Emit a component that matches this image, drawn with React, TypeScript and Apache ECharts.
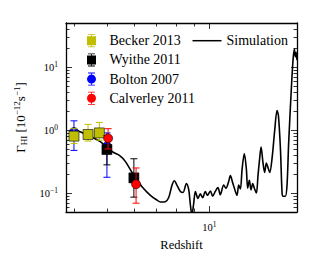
import React, { useEffect, useRef } from 'react';
import * as echarts from 'echarts';

// ---- Simulation curve (redshift, Gamma_HI in 1e-12 s^-1)
const simZ = [3.97, 4.17, 4.37, 4.57, 4.78, 5.0, 5.23, 5.44, 5.66, 5.99,
  6.34, 6.71, 7.02, 7.18, 7.42, 7.59, 7.77, 7.89, 8.03, 8.22,
  8.37, 8.56, 8.7, 8.79, 8.89, 8.99, 9.1, 9.26, 9.41, 9.56,
  9.73, 9.87, 10.07, 10.23, 10.41, 10.6, 10.77, 11.02, 11.19, 11.4,
  11.53, 11.71, 11.93, 12.06, 12.2, 12.34, 12.48, 12.67, 12.85, 12.96,
  13.11, 13.26, 13.41, 13.56, 13.75, 13.9, 14.06, 14.19, 14.38, 14.54,
  14.71, 14.88, 15.05, 15.29, 15.57, 15.81, 15.96, 16.18, 16.36, 16.47,
  16.73, 16.92, 17.11, 17.42, 17.62, 17.78, 17.9, 17.99, 18.1];
const simG = [1.05, 0.94, 0.84, 0.745, 0.655, 0.53, 0.44, 0.395, 0.318, 0.193,
  0.126, 0.092, 0.077, 0.072, 0.073, 0.084, 0.134, 0.157, 0.134, 0.106,
  0.102, 0.142, 0.112, 0.067, 0.045, 0.067, 0.106, 0.082, 0.097, 0.084,
  0.106, 0.092, 0.108, 0.089, 0.106, 0.122, 0.094, 0.134, 0.119, 0.153,
  0.189, 0.146, 0.106, 0.092, 0.134, 0.116, 0.238, 0.425, 0.238, 0.119,
  0.159, 0.112, 0.142, 0.119, 0.1, 0.189, 0.357, 0.535, 0.3, 0.212,
  0.3, 0.252, 0.212, 0.357, 1.01, 2.03, 1.7, 0.505, 0.1, 0.089,
  0.089, 0.134, 0.637, 4.55, 12.9, 19.3, 14.5, 17.2, 12.9];

// ---- Observations
const beckerZ = [4.0, 4.4, 4.75];
const beckerG = [0.8, 0.85, 0.9];
const beckerLo = [0.61, 0.67, 0.69];
const beckerHi = [1.05, 1.23, 1.32];

const wyitheZ = [5.0, 6.0];
const wyitheG = [0.49, 0.174];
const wyitheLo = [0.28, 0.086];
const wyitheHi = [0.82, 0.35];

const boltonZ = [4.0, 5.0];
const boltonG = [0.93, 0.55];
const boltonLo = [0.475, 0.178];
const boltonHi = [1.4, 0.9];

const calverleyZ = [5.04, 6.09];
const calverleyG = [0.74, 0.138];
const calverleyLo = [0.5, 0.069];
const calverleyHi = [1.05, 0.25];

// ---- Axis ticks
const xMajor = [10];
const xMinor = [4, 5, 6, 7, 8, 9];
const yMajor = [0.1, 1, 10];
const yMinor = [0.06, 0.07, 0.08, 0.09, 0.2, 0.3, 0.4, 0.5, 0.6, 0.7, 0.8, 0.9,
  2, 3, 4, 5, 6, 7, 8, 9, 20, 30, 40];

const FONT = '"Liberation Serif", "Times New Roman", serif';
const YEL = '#bfbf00';
const BLUE = '#0000ff';
const RED = '#ff0000';
const BLK = '#000000';

const SQ_ICON = 'path://M1.5,0H8.5V0.8H5.4V2H9.5V11H5.4V12.2H8.5V13H1.5V12.2H4.6V11H0.5V2H4.6V0.8H1.5Z';
const CI_ICON = 'path://M1.5,0H8.5V0.8H1.5Z M4.6,0H5.4V13H4.6Z M1.5,12.2H8.5V13H1.5Z M0.5,6.5A4.5,4.5 0 1,1 9.5,6.5A4.5,4.5 0 1,1 0.5,6.5Z';

const supRich = {
  b: { fontFamily: FONT, fontSize: 10.5, color: '#000', lineHeight: 14 },
  sup: { fontFamily: FONT, fontSize: 7.5, color: '#000', lineHeight: 7, verticalAlign: 'top' as const },
};

function powLabel(v: number) {
  const e = Math.round(Math.log10(v));
  return '{b|10}{sup|' + (e < 0 ? '\u2212' + -e : String(e)) + '}';
}

function errSeries(name: string, zs: number[], lo: number[], hi: number[], color: string, z: number) {
  return {
    type: 'custom',
    name,
    xAxisIndex: 0,
    yAxisIndex: 0,
    z,
    clip: true,
    data: zs.map((x, i) => [x, lo[i], hi[i]]),
    encode: { x: 0, y: [1, 2] },
    renderItem: (_p: any, api: any) => {
      const x = api.value(0);
      const a = api.coord([x, api.value(2)]);
      const b = api.coord([x, api.value(1)]);
      const hw = 3.5;
      const st = { stroke: color, lineWidth: 1 };
      return {
        type: 'group',
        children: [
          { type: 'line', shape: { x1: a[0], y1: a[1], x2: b[0], y2: b[1] }, style: st },
          { type: 'line', shape: { x1: a[0] - hw, y1: a[1], x2: a[0] + hw, y2: a[1] }, style: st },
          { type: 'line', shape: { x1: b[0] - hw, y1: b[1], x2: b[0] + hw, y2: b[1] }, style: st },
        ],
      };
    },
  };
}

function markSeries(name: string, zs: number[], gs: number[], symbol: string, size: number, color: string, z: number) {
  return {
    type: 'scatter',
    name,
    xAxisIndex: 0,
    yAxisIndex: 0,
    z,
    symbol,
    symbolSize: size,
    itemStyle: { color, borderColor: '#000', borderWidth: 0.6, opacity: 1 },
    data: zs.map((x, i) => [x, gs[i]]),
  };
}

export default function App() {
  const ref = useRef<HTMLDivElement>(null);
  useEffect(() => {
    if (!ref.current) return;
    const chart = echarts.init(ref.current, undefined, { renderer: 'svg' });
    const axisLine = { show: true, lineStyle: { color: '#000', width: 1.3 } };
    const xBase = { type: 'log', logBase: 10, min: 3.79, max: 18.1, gridIndex: 0, splitLine: { show: false } };
    const yBase = { type: 'log', logBase: 10, min: 0.05, max: 50, gridIndex: 0, splitLine: { show: false } };
    const option: any = {
      animation: false,
      backgroundColor: '#ffffff',
      grid: { left: 66, top: 23, right: 33, bottom: 35, containLabel: false },
      xAxis: [
        {
          ...xBase, position: 'bottom', axisLine,
          axisTick: { show: true, inside: true, length: 6, customValues: xMajor, lineStyle: { color: '#000', width: 0.8 } },
          axisLabel: { show: true, customValues: xMajor, margin: 8, formatter: powLabel, rich: supRich },
          name: 'Redshift', nameLocation: 'middle', nameGap: 26,
          nameTextStyle: { fontFamily: FONT, fontSize: 12.5, color: '#000' },
        },
        {
          ...xBase, position: 'bottom', axisLine: { show: false },
          axisTick: { show: true, inside: true, length: 3.5, customValues: xMinor, lineStyle: { color: '#000', width: 0.8 } },
          axisLabel: { show: false },
        },
        {
          ...xBase, position: 'top', axisLine,
          axisTick: { show: true, inside: true, length: 6, customValues: xMajor, lineStyle: { color: '#000', width: 0.8 } },
          axisLabel: { show: false },
        },
        {
          ...xBase, position: 'top', axisLine: { show: false },
          axisTick: { show: true, inside: true, length: 3.5, customValues: xMinor, lineStyle: { color: '#000', width: 0.8 } },
          axisLabel: { show: false },
        },
      ],
      yAxis: [
        {
          ...yBase, position: 'left', axisLine,
          axisTick: { show: true, inside: true, length: 6, customValues: yMajor, lineStyle: { color: '#000', width: 0.8 } },
          axisLabel: { show: true, customValues: yMajor, margin: 8, formatter: powLabel, rich: supRich },
          name: '{n|\u0393}{sub|HI}{n| [10}{sup|\u221212}{n|s}{sup|\u22121}{n|]}',
          nameLocation: 'middle', nameGap: 34, nameRotate: 90,
          nameTextStyle: {
            rich: {
              n: { fontFamily: FONT, fontSize: 13, color: '#000', lineHeight: 16 },
              sub: { fontFamily: FONT, fontSize: 9, color: '#000', lineHeight: 8, verticalAlign: 'bottom' },
              sup: { fontFamily: FONT, fontSize: 9, color: '#000', lineHeight: 8, verticalAlign: 'top' },
            },
          },
        },
        {
          ...yBase, position: 'left', axisLine: { show: false },
          axisTick: { show: true, inside: true, length: 3.5, customValues: yMinor, lineStyle: { color: '#000', width: 0.8 } },
          axisLabel: { show: false },
        },
        {
          ...yBase, position: 'right', axisLine,
          axisTick: { show: true, inside: true, length: 6, customValues: yMajor, lineStyle: { color: '#000', width: 0.8 } },
          axisLabel: { show: false },
        },
        {
          ...yBase, position: 'right', axisLine: { show: false },
          axisTick: { show: true, inside: true, length: 3.5, customValues: yMinor, lineStyle: { color: '#000', width: 0.8 } },
          axisLabel: { show: false },
        },
      ],
      legend: [
        {
          orient: 'vertical', left: 87, top: 33.7, padding: 0, itemWidth: 10, itemHeight: 13, itemGap: 5.2,
          selectedMode: false,
          textStyle: { fontFamily: FONT, fontSize: 14, color: '#000', padding: [0, 0, 0, 8] },
          data: [
            { name: 'Becker 2013', icon: SQ_ICON, itemStyle: { color: YEL, borderWidth: 0 } },
            { name: 'Wyithe 2011', icon: SQ_ICON, itemStyle: { color: BLK, borderWidth: 0 } },
            { name: 'Bolton 2007', icon: CI_ICON, itemStyle: { color: BLUE, borderWidth: 0 } },
            { name: 'Calverley 2011', icon: CI_ICON, itemStyle: { color: RED, borderWidth: 0 } },
          ],
        },
        {
          left: 192.5, top: 33.7, padding: 0, itemWidth: 29, itemHeight: 1.5,
          selectedMode: false,
          textStyle: { fontFamily: FONT, fontSize: 14, color: '#000' },
          data: [{ name: 'Simulation', icon: 'rect', itemStyle: { color: BLK, borderWidth: 0 } }],
        },
      ],
      series: [
        {
          type: 'line', name: 'Simulation', xAxisIndex: 0, yAxisIndex: 0, z: 2,
          data: simZ.map((x, i) => [x, simG[i]]),
          showSymbol: false, symbol: 'none', smooth: 0.3, clip: true,
          lineStyle: { color: BLK, width: 1.6 }, itemStyle: { color: BLK },
        },
        errSeries('Bolton 2007', boltonZ, boltonLo, boltonHi, BLUE, 3),
        markSeries('Bolton 2007', boltonZ, boltonG, 'circle', 9, BLUE, 3),
        errSeries('Becker 2013', beckerZ, beckerLo, beckerHi, YEL, 4),
        markSeries('Becker 2013', beckerZ, beckerG, 'rect', 10, YEL, 4),
        errSeries('Wyithe 2011', wyitheZ, wyitheLo, wyitheHi, BLK, 5),
        markSeries('Wyithe 2011', wyitheZ, wyitheG, 'rect', 10, BLK, 5),
        errSeries('Calverley 2011', calverleyZ, calverleyLo, calverleyHi, RED, 6),
        markSeries('Calverley 2011', calverleyZ, calverleyG, 'circle', 9, RED, 6),
      ],
    };
    chart.setOption(option);
    return () => chart.dispose();
  }, []);
  return <div ref={ref} style={{ position: 'absolute', left: 0, top: 0, width: 330, height: 256 }} />;
}
